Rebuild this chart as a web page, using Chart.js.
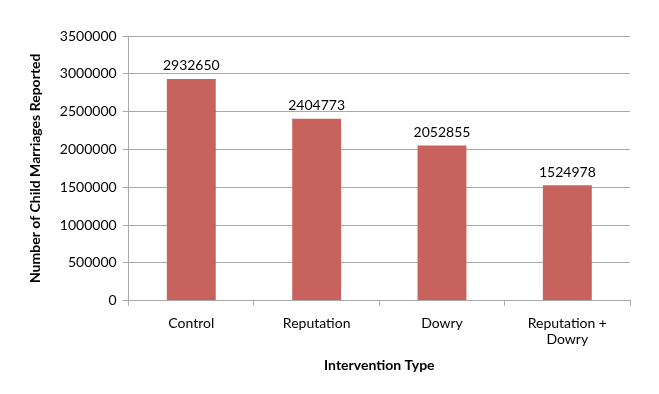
<!DOCTYPE html>
<html>
<head>
<meta charset="utf-8">
<script src="https://cdn.jsdelivr.net/npm/chart.js@4.4.0/dist/chart.umd.min.js"></script>
<style>
  html, body { margin: 0; padding: 0; background: #fff; }
  #wrap { width: 659px; height: 394px; }
</style>
</head>
<body>
<div id="wrap"><canvas id="chart" width="659" height="394"></canvas></div>
<script>
// chart data
const categories = ['Control', 'Reputation', 'Dowry', ['Reputation +', 'Dowry']];
const marriages = [2932650, 2404773, 2052855, 1524978];
const yTicks = [0, 500000, 1000000, 1500000, 2000000, 2500000, 3000000, 3500000];

const fontFamily = 'Lato, "Open Sans", sans-serif';
const gridColor = '#a8a8a8';

// draws the value over each bar
const valueLabels = {
    id: 'valueLabels',
    afterDatasetsDraw(chart) {
        const ctx = chart.ctx;
        const meta = chart.getDatasetMeta(0);
        ctx.save();
        ctx.font = '14px ' + fontFamily;
        ctx.fillStyle = '#000';
        ctx.textAlign = 'center';
        ctx.textBaseline = 'bottom';
        meta.data.forEach((bar, i) => {
            ctx.fillText(String(marriages[i]), bar.x, bar.y - 6);
        });
        ctx.restore();
    }
};

const ctx = document.getElementById('chart').getContext('2d');
new Chart(ctx, {
    type: 'bar',
    data: {
        labels: categories,
        datasets: [{
            label: 'Child marriages',
            data: marriages,
            backgroundColor: '#C8625C',
            barPercentage: 0.39,
            categoryPercentage: 1.0
        }]
    },
    options: {
        responsive: false,
        animation: false,
        layout: {
            padding: { left: 23, right: 29, top: 36, bottom: 14 }
        },
        plugins: {
            legend: { display: false },
            tooltip: { enabled: false }
        },
        scales: {
            x: {
                grid: {
                    display: true,
                    offset: true,
                    drawOnChartArea: false,
                    drawTicks: true,
                    tickLength: 5,
                    color: gridColor
                },
                border: { color: gridColor },
                ticks: {
                    color: '#000',
                    font: { family: fontFamily, size: 14 },
                    padding: 9,
                    maxRotation: 0
                },
                title: {
                    display: true,
                    text: 'Intervention Type',
                    color: '#000',
                    font: { family: fontFamily, size: 14, weight: 'bold' },
                    padding: { top: 0, bottom: 6 }
                }
            },
            y: {
                min: 0,
                max: 3500000,
                afterBuildTicks(scale) {
                    scale.ticks = yTicks.map(v => ({ value: v }));
                },
                grid: {
                    color: gridColor,
                    tickLength: 6
                },
                border: { color: gridColor },
                ticks: {
                    color: '#000',
                    font: { family: fontFamily, size: 14 },
                    padding: 6,
                    callback: v => String(v)
                },
                title: {
                    display: true,
                    text: 'Number of Child Marriages Reported',
                    color: '#000',
                    font: { family: fontFamily, size: 14, weight: 'bold' },
                    padding: { bottom: 10 }
                }
            }
        }
    },
    plugins: [valueLabels]
});
</script>
</body>
</html>
